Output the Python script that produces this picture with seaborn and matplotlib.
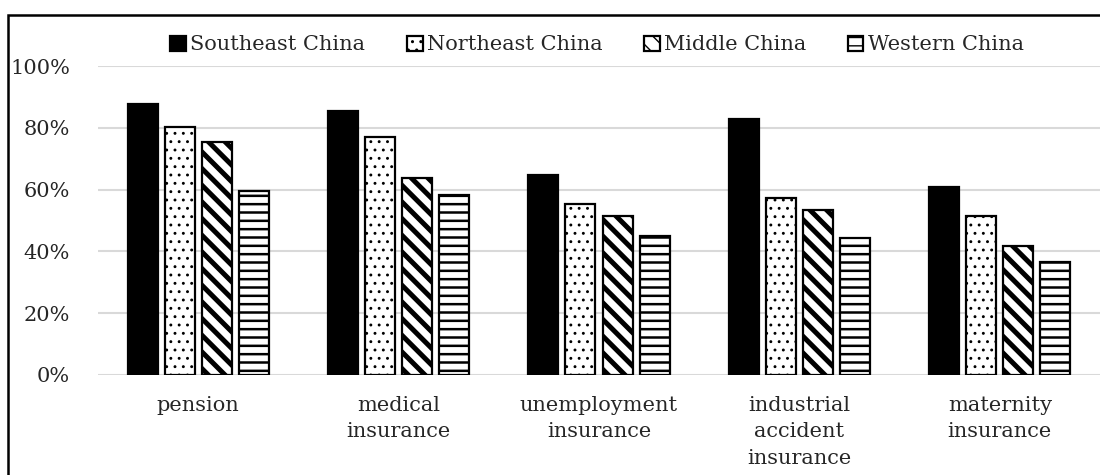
import pandas as pd
import numpy as np

import matplotlib.pyplot as plt
import matplotlib.patches as mpatches
import seaborn as sns


# DATA
categories = [
    "pension",
    "medical\ninsurance",
    "unemployment\ninsurance",
    "industrial\naccident\ninsurance",
    "maternity\ninsurance",
]

regions = ["Southeast China", "Northeast China", "Middle China", "Western China"]

southeast = [0.877, 0.853, 0.647, 0.830, 0.608]
northeast = [0.801, 0.771, 0.552, 0.573, 0.516]
middle = [0.753, 0.639, 0.513, 0.534, 0.417]
western = [0.595, 0.581, 0.450, 0.443, 0.365]


# LONG TABLE
df = pd.DataFrame({
    "category": categories * 4,
    "region": np.repeat(regions, len(categories)),
    "value": southeast + northeast + middle + western,
})


# STYLE
sns.set_style("white")
plt.rcParams["font.family"] = ["DejaVu Serif"]
plt.rcParams["hatch.linewidth"] = 1.0

fig = plt.figure(figsize=(11, 4.75), dpi=100)
ax = fig.add_axes([98 / 1100, 1 - 375 / 475, 1 - 98 / 1100, (375 - 66) / 475])

palette = {
    "Southeast China": "black",
    "Northeast China": "white",
    "Middle China": "white",
    "Western China": "white",
}

sns.barplot(
    data=df,
    x="category",
    y="value",
    hue="region",
    hue_order=regions,
    order=categories,
    palette=palette,
    width=0.74,
    gap=0.19,
    edgecolor="black",
    linewidth=1.6,
    legend=False,
    ax=ax,
)


# HATCHES
hatches = ["", "..", "\\\\", "--"]
hatch_lw = [1.0, 0.9, 3.6, 1.8]

for cont, h, lw in zip(ax.containers, hatches, hatch_lw):
    for bar in cont:
        bar.set_hatch(h)
        if hasattr(bar, "set_hatch_linewidth"):
            bar.set_hatch_linewidth(lw)


# AXES
ax.set_ylim(0, 1)
ax.set_xlim(-0.5, len(categories) - 0.5)
ax.set_yticks(np.arange(0, 1.01, 0.2))
ax.set_yticklabels([f"{int(round(v * 100))}%" for v in np.arange(0, 1.01, 0.2)])
ax.set_xticks(range(len(categories)))
ax.yaxis.grid(True, color="#d9d9d9", linewidth=1.5)
ax.set_axisbelow(True)
for s in ax.spines.values():
    s.set_visible(False)
ax.tick_params(axis="both", length=0, labelsize=15)
ax.tick_params(axis="y", pad=20)
ax.tick_params(axis="x", pad=15)
ax.set_xticklabels(categories, linespacing=1.5, va="top")
ax.set_xlabel("")
ax.set_ylabel("")


# LEGEND
handles = []
for r, h, lw in zip(regions, hatches, hatch_lw):
    p = mpatches.Patch(facecolor=palette[r], edgecolor="black", hatch=h, linewidth=1.6)
    if hasattr(p, "set_hatch_linewidth"):
        p.set_hatch_linewidth(min(lw, 1.5))
    handles.append(p)

fig.legend(
    handles,
    regions,
    loc="center",
    bbox_to_anchor=(597 / 1100, 1 - 45 / 475),
    ncol=4,
    frameon=False,
    fontsize=15,
    handlelength=0.75,
    handleheight=0.75,
    handletextpad=0.2,
    columnspacing=2.0,
)


# FRAME
frame = mpatches.Rectangle(
    (8 / 1100, -0.2),
    1.2,
    0.2 + 1 - 15 / 475,
    transform=fig.transFigure,
    fill=False,
    edgecolor="black",
    linewidth=1.8,
    clip_on=False,
)
fig.patches.append(frame)

plt.savefig("out.png", dpi=100)
